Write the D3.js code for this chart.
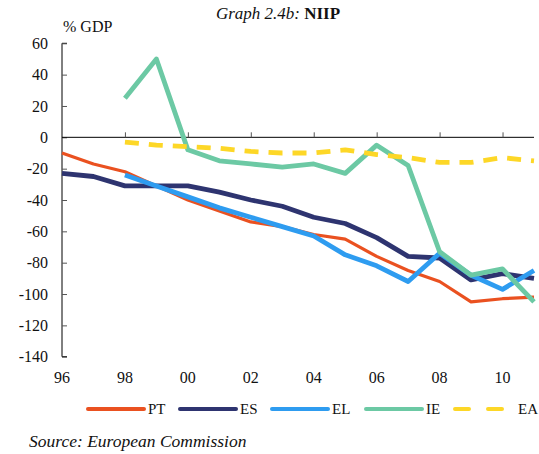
<!DOCTYPE html>
<html>
<head>
<meta charset="utf-8">
<script src="https://cdn.jsdelivr.net/npm/d3@7"></script>
<style>
  body { margin: 0; background: #fff; }
  svg text { font-family: "Liberation Serif", serif; fill: #111; }
</style>
</head>
<body>
<div id="chart"></div>
<script>
// Years and NIIP values (% of GDP)
const years = d3.range(1996, 2012);
const pt = [-10, -17, -22, -31, -40, -47, -54, -57, -62, -65, -76, -85, -92, -105, -103, -102];
const es = [-23, -25, -31, -31, -31, -35, -40, -44, -51, -55, -64, -76, -77, -91, -87, -90];
const el = [null, null, -24, -31, -38, -45, -51, -57, -63, -75, -82, -92, -74, -88, -97, -85];
const ie = [null, null, 25, 50, -8, -15, -17, -19, -17, -23, -5, -18, -73, -88, -84, -105];
const ea = [null, null, -3, -5, -6, -7, -9, -10, -10, -8, -11, -13, -16, -16, -13, -15];

const yTicks = [60, 40, 20, 0, -20, -40, -60, -80, -100, -120, -140];
const xTicks = [1996, 1998, 2000, 2002, 2004, 2006, 2008, 2010];

const series = [
    { name: "PT", values: pt, color: "#ea5120", width: 3.2, dash: null },
    { name: "ES", values: es, color: "#2e3470", width: 4.8, dash: null },
    { name: "EL", values: el, color: "#2e9cf0", width: 4.8, dash: null },
    { name: "IE", values: ie, color: "#6cc9a4", width: 4.8, dash: null },
    { name: "EA", values: ea, color: "#fdd727", width: 4.8, dash: "14,10" }
];

const width = 539, height = 454;
const svg = d3.select("#chart")
    .append("svg")
    .attr("width", width)
    .attr("height", height)
    .style("font-family", "'Liberation Serif', serif");

const x = d3.scaleLinear().domain([1996, 2011]).range([62, 534]);
const y = d3.scaleLinear().domain([-140, 60]).range([356.7, 43.3]);

// Title
const title = svg.append("text")
    .attr("x", 278)
    .attr("y", 19)
    .attr("text-anchor", "middle")
    .style("font-size", "17px");
title.append("tspan").style("font-style", "italic").text("Graph 2.4b: ");
title.append("tspan").style("font-weight", "bold").text("NIIP");

svg.append("text")
    .attr("x", 63)
    .attr("y", 31.5)
    .style("font-size", "16px")
    .text("% GDP");

// Y axis with inward ticks
const yAxis = svg.append("g")
    .attr("transform", `translate(${x(1996)},0)`)
    .call(d3.axisRight(y).tickValues(yTicks).tickSize(5).tickFormat(""));
yAxis.select(".domain").attr("d", `M5,${y(60)}H0V${y(-140)}H5`);
yAxis.selectAll("line").attr("stroke", "#555");

svg.append("g").selectAll("text")
    .data(yTicks)
    .enter()
    .append("text")
    .attr("x", 48)
    .attr("y", d => y(d))
    .attr("dy", "0.35em")
    .attr("text-anchor", "end")
    .style("font-size", "16px")
    .text(d => d);

// Zero line with upward ticks
const xAxis = svg.append("g")
    .attr("transform", `translate(0,${y(0)})`)
    .call(d3.axisTop(x).tickValues(xTicks.slice(1)).tickSize(5).tickFormat(""));
xAxis.select(".domain").attr("d", `M${x(1996)},0H${x(2011)}`);
xAxis.selectAll("line").attr("stroke", "#555");

svg.append("g").selectAll("text")
    .data(xTicks)
    .enter()
    .append("text")
    .attr("x", d => x(d))
    .attr("y", 383)
    .attr("text-anchor", "middle")
    .style("font-size", "16px")
    .text(d => String(d).slice(2));

// Lines
const line = d3.line()
    .defined(d => d.v !== null)
    .x(d => x(d.year))
    .y(d => y(d.v));

svg.append("g").selectAll("path")
    .data(series)
    .enter()
    .append("path")
    .attr("fill", "none")
    .attr("stroke", d => d.color)
    .attr("stroke-width", d => d.width)
    .attr("stroke-dasharray", d => d.dash)
    .attr("stroke-linejoin", "round")
    .attr("d", d => line(years.map((yr, i) => ({ year: yr, v: d.values[i] }))));

// Legend
const legendX = [88, 180, 272, 366, 455];
const legend = svg.append("g").selectAll("g")
    .data(series)
    .enter()
    .append("g")
    .attr("transform", (d, i) => `translate(${legendX[i]},409)`);

legend.append("line")
    .attr("x1", 0)
    .attr("x2", d => d.name === "EA" ? 48 : 56)
    .attr("stroke", d => d.color)
    .attr("stroke-width", 4)
    .attr("stroke-linecap", "round")
    .attr("stroke-dasharray", d => d.dash ? "14,19" : null);

legend.append("text")
    .attr("x", d => d.name === "EA" ? 63 : 60)
    .attr("y", 5)
    .style("font-size", "15px")
    .text(d => d.name);

svg.append("text")
    .attr("x", 29)
    .attr("y", 446.5)
    .style("font-size", "17.5px")
    .style("font-style", "italic")
    .text("Source: European Commission");
</script>
</body>
</html>
